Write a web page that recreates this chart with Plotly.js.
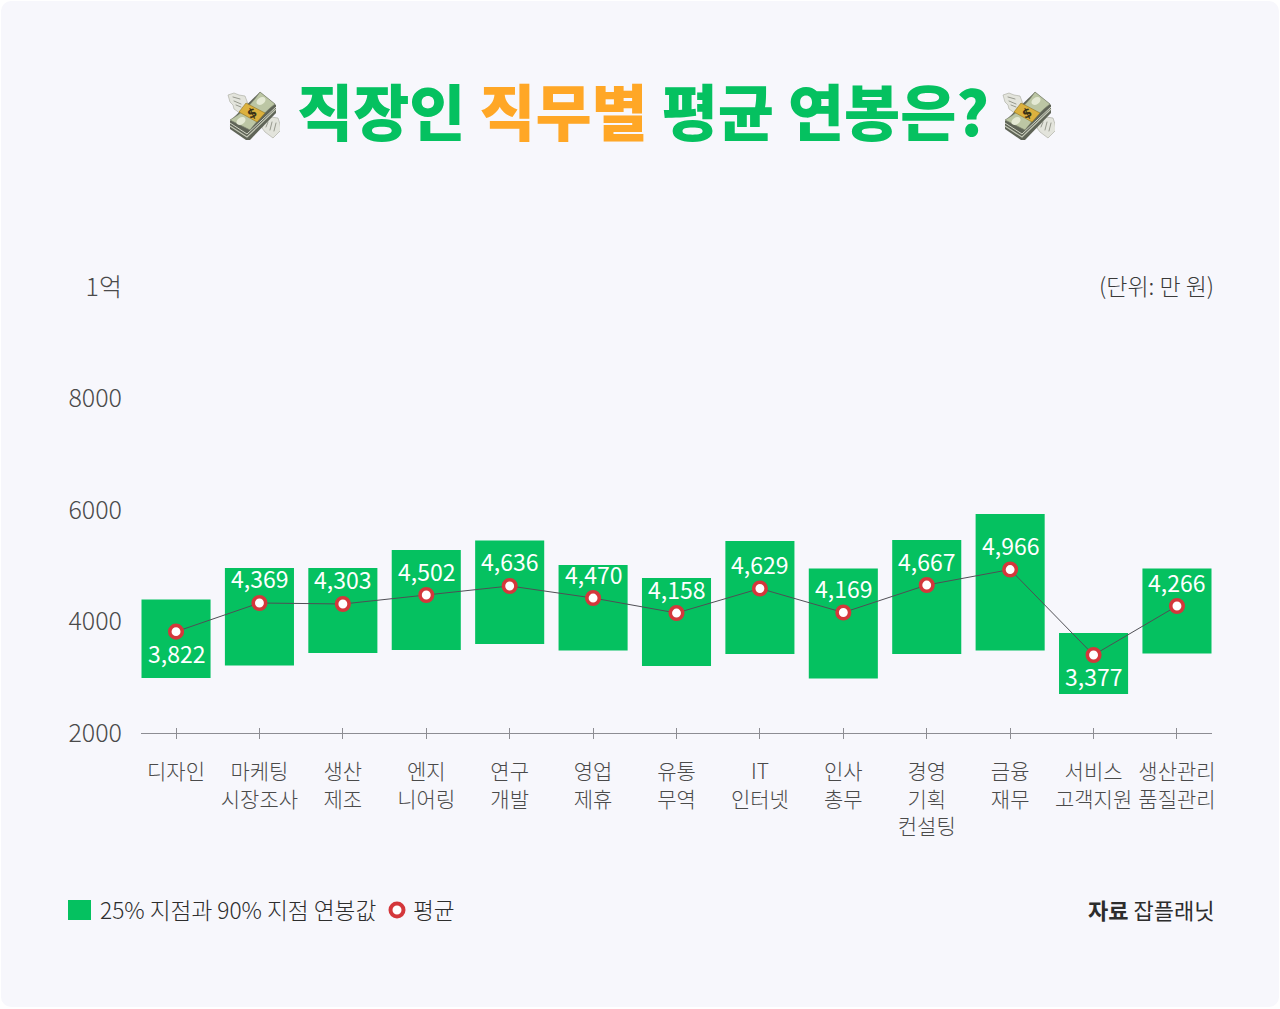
<!DOCTYPE html>
<html>
<head>
<meta charset="utf-8">
<script src="https://cdn.plot.ly/plotly-3.0.1.min.js"></script>
<style>
html, body { margin: 0; padding: 0; background: #fff; }
#card { position: absolute; left: 1px; top: 1px; width: 1278px; height: 1006px; background: #f7f7fc; border-radius: 10px; }
#chart { position: absolute; left: 0; top: 0; width: 1280px; height: 1009px; }
</style>
</head>
<body>
<div id="card"></div>
<div id="chart"></div>
<script>
var categories = ["디자인", "마케팅<br>시장조사", "생산<br>제조", "엔지<br>니어링", "연구<br>개발", "영업<br>제휴", "유통<br>무역", "IT<br>인터넷", "인사<br>총무", "경영<br>기획<br>컨설팅", "금융<br>재무", "서비스<br>고객지원", "생산관리<br>품질관리"];
var p25 = [2987, 3211, 3435, 3489, 3596, 3480, 3202, 3417, 2978, 3417, 3480, 2700, 3426];
var p90 = [4395, 4960, 4960, 5283, 5453, 5013, 4780, 5444, 4951, 5462, 5928, 3794, 4951];
// printed numbers
var averageLabels = [3822, 4369, 4303, 4502, 4636, 4470, 4158, 4629, 4169, 4667, 4966, 3377, 4266];
// where the dots actually sit against the axis, they differ a little from the printed numbers
var averageDots = [3818, 4332, 4314, 4475, 4637, 4421, 4152, 4592, 4161, 4654, 4932, 3399, 4278];
var labelsBelow = ["디자인", "서비스<br>고객지원"];
var yTicks = [2000, 4000, 6000, 8000, 10000];
var yTickLabels = ["2000", "4000", "6000", "8000", "1억"];

var fontKr = '"Noto Sans CJK KR", "Noto Sans", sans-serif';
var green = "#05c160", orange = "#ffa726", red = "#d4373b", grey = "#4f4f55";
var W = 1280, H = 1009, mL = 141, mR = 68, mT = 287, mB = 276;
var xRange = [-0.42, 12.42];

// page pixels to paper fractions, for the legend and the icons
function px(x) { return (x - mL) / (W - mL - mR); }
function py(y) { return (H - mB - y) / (H - mT - mB); }

var moneySvg = "<svg xmlns='http://www.w3.org/2000/svg' viewBox='0 0 54 50'>" +
  "<g fill='#e3e4dc' stroke='#a6a89c' stroke-width='.6' stroke-linejoin='round'>" +
  "<path d='M2 5 L8 3 L13 5 L19 6 L22 14 L14 24 L11 21 L8 19 L7 15 L4 12Z'/>" +
  "<path d='M38 28 L45 27 L52 28 L54 34 L55 40 L51 44 L47 48 L43 45 L39 42 L36 38Z'/></g>" +
  "<g stroke='#8f9186' stroke-width='.9' stroke-linecap='round'>" +
  "<path d='M7 7l7 2M8 11l7 3M10 15l5 2M42 32l-2 5M46 32l-2 8M50 33l-2 8'/></g>" +
  "<path d='M34 2 L50 15 L50 23 L24 50 L20 50 L4 39 L4 31Z' fill='#5f6457'/>" +
  "<path d='M4 36 L21 47 L50 19' fill='none' stroke='#c3c7b6' stroke-width='1.2'/>" +
  "<path d='M4 33 L21 44 L50 17' fill='none' stroke='#d2d5c6' stroke-width='1'/>" +
  "<path d='M34 2 L49 14 Q38 22 24 40 L4 30 Q22 20 34 2Z' fill='#bcc6a4' stroke='#7d846e' stroke-width='.7'/>" +
  "<path d='M20 13 L39 23 L31 32 L13 22Z' fill='#dcb13e' stroke='#8f7420' stroke-width='.6'/>" +
  "<ellipse cx='35' cy='11' rx='5' ry='3.4' fill='#e4e9d4' transform='rotate(-35 35 11)'/>" +
  "<ellipse cx='15' cy='31' rx='5' ry='3.4' fill='#e4e9d4' transform='rotate(-35 15 31)'/>" +
  "<text x='26' y='27.5' font-family='DejaVu Sans' font-weight='bold' font-size='13' fill='#3a3218' text-anchor='middle' transform='rotate(-25 26 23)'>$</text>" +
  "</svg>";
var moneyUri = "data:image/svg+xml;utf8," + encodeURIComponent(moneySvg);

var traceRange = {
  type: "bar",
  x: categories,
  y: p90.map(function (v, i) { return v - p25[i]; }),
  base: p25,
  width: 0.828,
  marker: { color: green, line: { width: 0 } },
  hoverinfo: "skip",
  showlegend: false
};

var traceAverage = {
  type: "scatter",
  mode: "lines+markers",
  x: categories,
  y: averageDots,
  xaxis: "x2",
  line: { color: grey, width: 1 },
  marker: { size: 12.5, color: "#ffffff", line: { color: red, width: 3.6 } },
  cliponaxis: false,
  showlegend: false
};

// value labels sit above the dot, two of them below
var valueNotes = categories.map(function (c, i) {
  return {
    xref: "x",
    yref: "y",
    x: c,
    y: averageDots[i],
    yshift: labelsBelow.indexOf(c) >= 0 ? -21 : 24.5,
    xanchor: "center",
    yanchor: "middle",
    showarrow: false,
    text: averageLabels[i].toLocaleString("en-US"),
    font: { family: fontKr, size: 23, color: "#ffffff" }
  };
});

var layout = {
  width: W,
  height: H,
  margin: { l: mL, r: mR, t: mT, b: mB, pad: 0 },
  paper_bgcolor: "rgba(0,0,0,0)",
  plot_bgcolor: "rgba(0,0,0,0)",
  font: { family: fontKr, color: "#4a4a4a" },
  showlegend: false,
  title: {
    text: "<span style='color:" + green + "'>직장인 </span><span style='color:" + orange + "'>직무별</span><span style='color:" + green + "'> 평균 연봉은?</span>",
    font: { family: fontKr, size: 61, weight: 900 },
    x: 643 / W,
    xanchor: "center",
    y: 1 - 115 / H,
    yanchor: "middle"
  },
  xaxis: {
    type: "category",
    categoryorder: "array",
    categoryarray: categories,
    range: xRange,
    showgrid: false,
    zeroline: false,
    showline: true,
    linecolor: "#8d8d93",
    linewidth: 1,
    ticks: "outside",
    ticklen: 5,
    tickwidth: 1,
    tickcolor: "#8d8d93",
    ticklabelstandoff: 15,
    tickfont: { family: fontKr, size: 21, color: "#4a4a4a", weight: 300 },
    automargin: false
  },
  // same categories again, only to draw the upper half of the crossing ticks
  xaxis2: {
    type: "category",
    categoryorder: "array",
    categoryarray: categories,
    range: xRange,
    overlaying: "x",
    side: "bottom",
    anchor: "y",
    showgrid: false,
    zeroline: false,
    showline: false,
    ticks: "inside",
    ticklen: 5,
    tickwidth: 1,
    tickcolor: "#8d8d93",
    showticklabels: false
  },
  yaxis: {
    range: [2000, 10000],
    tickmode: "array",
    tickvals: yTicks,
    ticktext: yTickLabels,
    showgrid: false,
    zeroline: false,
    showline: false,
    ticks: "",
    ticklabelstandoff: 18,
    tickfont: { family: fontKr, size: 25, color: "#4a4a4a", weight: 300 },
    automargin: false
  },
  annotations: valueNotes.concat([
    { xref: "paper", yref: "paper", x: px(1216), y: py(285), xanchor: "right", yanchor: "middle", showarrow: false, text: "(단위: 만 원)", font: { size: 23, color: "#3a3a3a", weight: 300 } },
    { xref: "paper", yref: "paper", x: px(98), y: py(909), xanchor: "left", yanchor: "middle", showarrow: false, text: "25% 지점과 90% 지점 연봉값", font: { size: 22.7, color: "#2d2d2d", weight: 300 } },
    { xref: "paper", yref: "paper", x: px(411), y: py(909), xanchor: "left", yanchor: "middle", showarrow: false, text: "평균", font: { size: 22.7, color: "#2d2d2d", weight: 300 } },
    { xref: "paper", yref: "paper", x: px(1216), y: py(909), xanchor: "right", yanchor: "middle", showarrow: false, text: "<b>자료</b> 잡플래닛", font: { size: 22, color: "#2d2d2d" } }
  ]),
  shapes: [
    { type: "rect", xref: "paper", yref: "paper", x0: px(68), x1: px(91), y0: py(900), y1: py(920), fillcolor: green, line: { width: 0 } },
    { type: "circle", xref: "paper", yref: "paper", x0: px(390.5), x1: px(403.5), y0: py(903.5), y1: py(916.5), fillcolor: "#ffffff", line: { color: red, width: 4 } }
  ],
  images: [
    { source: moneyUri, xref: "paper", yref: "paper", x: px(226), y: py(90), sizex: 54 / (W - mL - mR), sizey: 50 / (H - mT - mB), xanchor: "left", yanchor: "top", sizing: "stretch", layer: "above" },
    { source: moneyUri, xref: "paper", yref: "paper", x: px(1001), y: py(90), sizex: 54 / (W - mL - mR), sizey: 50 / (H - mT - mB), xanchor: "left", yanchor: "top", sizing: "stretch", layer: "above" }
  ]
};

Plotly.newPlot("chart", [traceRange, traceAverage], layout, { displayModeBar: false, responsive: false });
</script>
</body>
</html>
